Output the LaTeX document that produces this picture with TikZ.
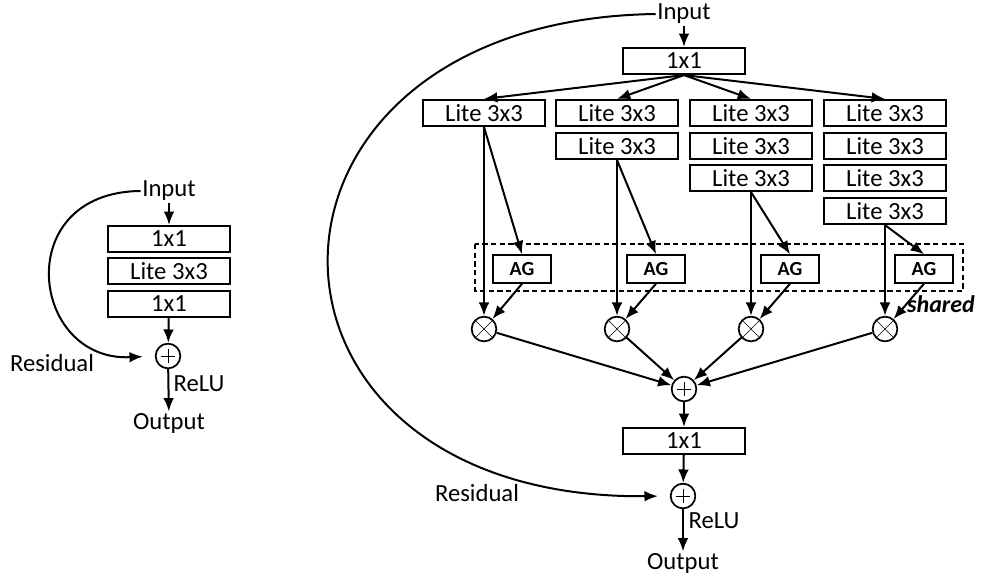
\documentclass[tikz,border=0pt]{standalone}
\usepackage{fontspec}
\setmainfont{Carlito}
\usetikzlibrary{arrows.meta}
\begin{document}
\begin{tikzpicture}[x=0.75pt,y=-0.75pt,
  every node/.style={font=\fontsize{18.5}{22}\selectfont},
  txt/.style={inner sep=1pt},
  blk/.style={draw, line width=1.6pt, minimum width=91.5pt, minimum height=19.5pt, inner sep=0pt},
  agbox/.style={draw, line width=1.6pt, minimum width=44pt, minimum height=20.5pt, inner sep=0pt, font=\fontsize{15}{17}\selectfont\bfseries},
  op/.style={circle, draw, line width=1.3pt, minimum size=18.5pt, inner sep=0pt},
  plusop/.style={op, path picture={
     \draw[line width=0.5pt] ([xshift=-5.5pt]path picture bounding box.center) -- ([xshift=5.5pt]path picture bounding box.center);
     \draw[line width=0.5pt] ([yshift=-5.5pt]path picture bounding box.center) -- ([yshift=5.5pt]path picture bounding box.center);}},
  timesop/.style={op, path picture={
     \draw[line width=0.5pt] ([shift={(-6.5pt,-6.5pt)}]path picture bounding box.center) -- ([shift={(6.5pt,6.5pt)}]path picture bounding box.center);
     \draw[line width=0.5pt] ([shift={(-6.5pt,6.5pt)}]path picture bounding box.center) -- ([shift={(6.5pt,-6.5pt)}]path picture bounding box.center);}},
  arr/.style={line width=1.5pt, -{Latex[length=10pt,width=8pt]}},
]
\useasboundingbox (0,0) rectangle (984,575);

% ---------- left block ----------
\node[txt] (inL) at (169,191) {Input};
\node[blk] (l1) at (169,239) {1x1};
\node[blk] (l2) at (169,271) {Lite 3x3};
\node[blk] (l3) at (169,304) {1x1};
\node[plusop] (addL) at (168,356) {};
\node[txt] (outL) at (169,423) {Output};
\node[txt] (resL) at (52,363) {Residual};
\node[txt] (reluL) at (199,384) {ReLU};
\draw[arr] (inL) -- (l1);
\draw[arr] (l3) -- (addL);
\draw[arr] (addL) -- (outL);
\draw[arr, shorten >=9pt] (inL.west) .. controls (10,192) and (30,362) .. (addL.west);

% ---------- right block ----------
\node[txt] (inR) at (684,14) {Input};
\node[blk] (top) at (684,61) {1x1};

\node[blk] (c1a) at (484,113) {Lite 3x3};

\node[blk] (c2a) at (617,113) {Lite 3x3};
\node[blk] (c2b) at (617,146) {Lite 3x3};

\node[blk] (c3a) at (751,113) {Lite 3x3};
\node[blk] (c3b) at (751,146) {Lite 3x3};
\node[blk] (c3c) at (751,178) {Lite 3x3};

\node[blk] (c4a) at (885,113) {Lite 3x3};
\node[blk] (c4b) at (885,146) {Lite 3x3};
\node[blk] (c4c) at (885,178) {Lite 3x3};
\node[blk] (c4d) at (885,211) {Lite 3x3};

\draw[line width=1.3pt, dash pattern=on 4pt off 2.5pt] (475,244) rectangle (963,291);

\node[agbox] (ag1) at (522,269) {AG};
\node[agbox] (ag2) at (656,269) {AG};
\node[agbox] (ag3) at (790,269) {AG};
\node[agbox] (ag4) at (924,269) {AG};

\node[timesop] (m1) at (484,329) {};
\node[timesop] (m2) at (617,329) {};
\node[timesop] (m3) at (751,329) {};
\node[timesop] (m4) at (885,329) {};

\node[txt, font=\fontsize{18}{21}\selectfont\bfseries\itshape] (sh) at (941,304) {shared};

\node[plusop] (sum) at (684,389) {};
\node[blk] (bot) at (684,441) {1x1};
\node[plusop] (sum2) at (683,496) {};
\node[txt] (reluR) at (714,521) {ReLU};
\node[txt] (outR) at (683,563) {Output};
\node[txt] (resR) at (477,493) {Residual};

\draw[arr] (inR) -- (top);
\foreach \c in {c1a,c2a,c3a,c4a} \draw[arr] (top.south) -- (\c.north);

\draw[arr] (c1a.south) -- (m1.north);
\draw[arr] (c2b.south) -- (m2.north);
\draw[arr] (c3c.south) -- (m3.north);
\draw[arr] (c4d.south) -- (m4.north);

\draw[arr] (c1a.south) -- (ag1.north);
\draw[arr] (c2b.south) -- (ag2.north);
\draw[arr] (c3c.south) -- (ag3.north);
\draw[arr] (c4d.south) -- (ag4.north);

\draw[arr] (ag1.south) -- (m1);
\draw[arr] (ag2.south) -- (m2);
\draw[arr] (ag3.south) -- (m3);
\draw[arr] (ag4.south) -- (m4);

\foreach \m in {m1,m2,m3,m4} \draw[arr] (\m) -- (sum);

\draw[arr] (sum) -- (bot);
\draw[arr] (bot) -- (sum2);
\draw[arr] (sum2) -- (outR);
\draw[arr, shorten >=9pt] (inR.west) .. controls (220,20) and (220,500) .. (sum2.west);
\end{tikzpicture}
\end{document}
